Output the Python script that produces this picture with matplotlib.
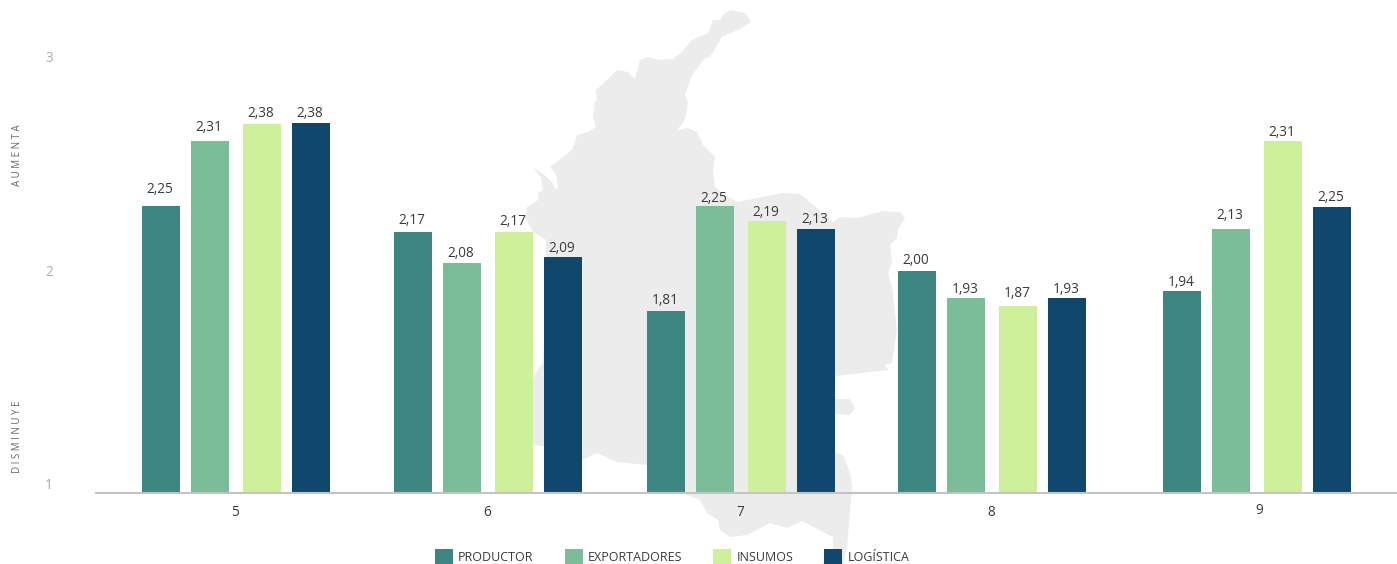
"""
Barras agrupadas por pregunta, con la silueta de Colombia de fondo (matplotlib, PNG).
"""

import matplotlib
matplotlib.use("Agg")
import matplotlib.pyplot as plt
from matplotlib.patches import Polygon
from matplotlib.transforms import ScaledTranslation

W, H = 1397, 564
DPI = 100

categories = ["5", "6", "7", "8", "9"]
series_names = ["PRODUCTOR", "EXPORTADORES", "INSUMOS", "LOGÍSTICA"]

# Alturas dibujadas (no coinciden con las etiquetas en el original)
productor = [2.344, 2.222, 1.852, 2.040, 1.946]
exportadores = [2.649, 2.077, 2.344, 1.913, 2.237]
insumos = [2.728, 2.222, 2.274, 1.876, 2.649]
logistica = [2.733, 2.105, 2.237, 1.913, 2.340]

# Etiquetas impresas sobre cada barra
productor_labels = ["2,25", "2,17", "1,81", "2,00", "1,94"]
exportadores_labels = ["2,31", "2,08", "2,25", "1,93", "2,13"]
insumos_labels = ["2,38", "2,17", "2,19", "1,87", "2,31"]
logistica_labels = ["2,38", "2,09", "2,13", "1,93", "2,25"]

# Disposición (píxeles de la imagen)
group_centers = [236, 488, 741, 992, 1257]
bar_offsets = [-75, -26, 26, 75]
bar_width = 38
label_gaps = [
    [17, 12, 11, 10, 9],
    [13, 10, 8, 9, 13],
    [11, 11, 9, 12, 8],
    [10, 9, 9, 9, 9],
]
colors = ["#3d8682", "#7bbd99", "#cff09b", "#0f476d"]

# Silueta del mapa, contorno en píxeles
map_outline = [
    (730, 10), (745, 13), (751, 22), (742, 28), (722, 37), (710, 57), (705, 58),
    (692, 75), (685, 95), (688, 103), (685, 120), (677, 130), (688, 128), (697, 132),
    (703, 145), (715, 157), (713, 170), (715, 187), (727, 197), (738, 202), (757, 198),
    (783, 193), (800, 194), (817, 208), (833, 222), (840, 217), (857, 218), (883, 211),
    (900, 212), (905, 218), (898, 230), (897, 238), (890, 245), (892, 263), (888, 273),
    (892, 287), (897, 330), (892, 363), (885, 365), (888, 370), (835, 376), (825, 400),
    (825, 440), (835, 453), (843, 455), (850, 473), (852, 487), (847, 547), (843, 564),
    (822, 564), (833, 547), (833, 537), (802, 521), (787, 528), (770, 523), (747, 535),
    (730, 537), (720, 530), (718, 520), (707, 513), (700, 500), (683, 493), (660, 480),
    (647, 465), (617, 462), (597, 453), (582, 460), (560, 452), (543, 446), (533, 445),
    (528, 420), (530, 385), (536, 372), (543, 363), (546, 300), (546, 240), (533, 232),
    (525, 217), (527, 207), (538, 200), (538, 193), (543, 190), (541, 177), (533, 168),
    (542, 173), (552, 182), (555, 189), (558, 188), (557, 177), (553, 170), (550, 167),
    (562, 158), (572, 150), (577, 135), (588, 132), (596, 127), (593, 117), (595, 103),
    (590, 107), (597, 100), (596, 90), (607, 80), (617, 70), (628, 72), (635, 79),
    (640, 60), (648, 57), (660, 60), (673, 59), (682, 52), (692, 40), (708, 33),
    (713, 20), (720, 20), (723, 15),
]
map_lobe = [(830, 399), (850, 399), (855, 408), (850, 415), (830, 413)]

plt.rcParams["font.family"] = ["Open Sans", "DejaVu Sans"]

fig = plt.figure(figsize=(W / DPI, H / DPI), dpi=DPI)

# Fondo en píxeles para el mapa
bg = fig.add_axes([0, 0, 1, 1])
bg.set_xlim(0, W)
bg.set_ylim(H, 0)
bg.axis("off")
bg.add_patch(Polygon(map_outline, closed=True, facecolor="#ececec", edgecolor="none"))
bg.add_patch(Polygon(map_lobe, closed=True, facecolor="#ececec", edgecolor="none"))

# Ejes principales: la línea base queda en y=493
baseline = 493
unit_px = 213.5
ax = fig.add_axes([96 / W, 1 - baseline / H, 1 - 96 / W, baseline / H])
ax.patch.set_visible(False)
ax.set_xlim(96, W)
ax.set_ylim(1, 1 + baseline / unit_px)

all_values = [productor, exportadores, insumos, logistica]
all_labels = [productor_labels, exportadores_labels, insumos_labels, logistica_labels]

handles = []
for i, name in enumerate(series_names):
    xs = [c + bar_offsets[i] for c in group_centers]
    bars = ax.bar(xs, all_values[i], width=bar_width, bottom=0, color=colors[i], label=name)
    handles.append(bars)
    for x, h, txt, gap in zip(xs, all_values[i], all_labels[i], label_gaps[i]):
        ax.annotate(txt, (x, h), xytext=(-1 * 72 / DPI, gap * 72 / DPI),
                    textcoords="offset points", ha="center", va="center",
                    fontsize=9.8, color="#3a3a3a")

for side in ["top", "right", "left"]:
    ax.spines[side].set_visible(False)
ax.spines["bottom"].set_color("#c4c4c4")
ax.spines["bottom"].set_linewidth(1.5)

ax.set_xticks(group_centers)
ax.set_xticklabels(categories, fontsize=9.8, color="#3a3a3a")
ax.set_yticks([1, 2, 3])
ax.set_yticklabels(["1", "2", "3"], fontsize=9.8, color="#aaaaaa")
ax.tick_params(axis="x", length=0, pad=8.5)
ax.tick_params(axis="y", length=0, pad=31)

# El "9" del original está algo desplazado; el resto un píxel a la izquierda
tick_shifts = [(-1, 0), (-1, 0), (-1, 0), (-1, 0), (2, 2)]
for lab, (dx, dy) in zip(ax.get_xticklabels(), tick_shifts):
    lab.set_transform(lab.get_transform() + ScaledTranslation(dx / DPI, dy / DPI, fig.dpi_scale_trans))

# Los números del eje Y van unos píxeles por encima de su posición
shift = ScaledTranslation(0, 9.5 / DPI, fig.dpi_scale_trans)
for lab in ax.get_yticklabels():
    lab.set_transform(lab.get_transform() + shift)

fig.text(17 / W, 1 - 155 / H, "A U M E N T A", rotation=90, ha="center", va="center",
         fontsize=7, color="#666666")
fig.text(17 / W, 1 - 437 / H, "D I S M I N U Y E", rotation=90, ha="center", va="center",
         fontsize=7, color="#666666")

ax.legend(handles=handles, loc="center", bbox_to_anchor=(672 / W, 1 - 556.5 / H),
          bbox_transform=fig.transFigure, ncol=4, frameon=False, fontsize=9,
          labelcolor="#3a3a3a", borderpad=0, borderaxespad=0, handlelength=1.44,
          handleheight=1.4, handletextpad=0.4, columnspacing=2.5)

fig.savefig("out.png", dpi=DPI)
plt.close(fig)
